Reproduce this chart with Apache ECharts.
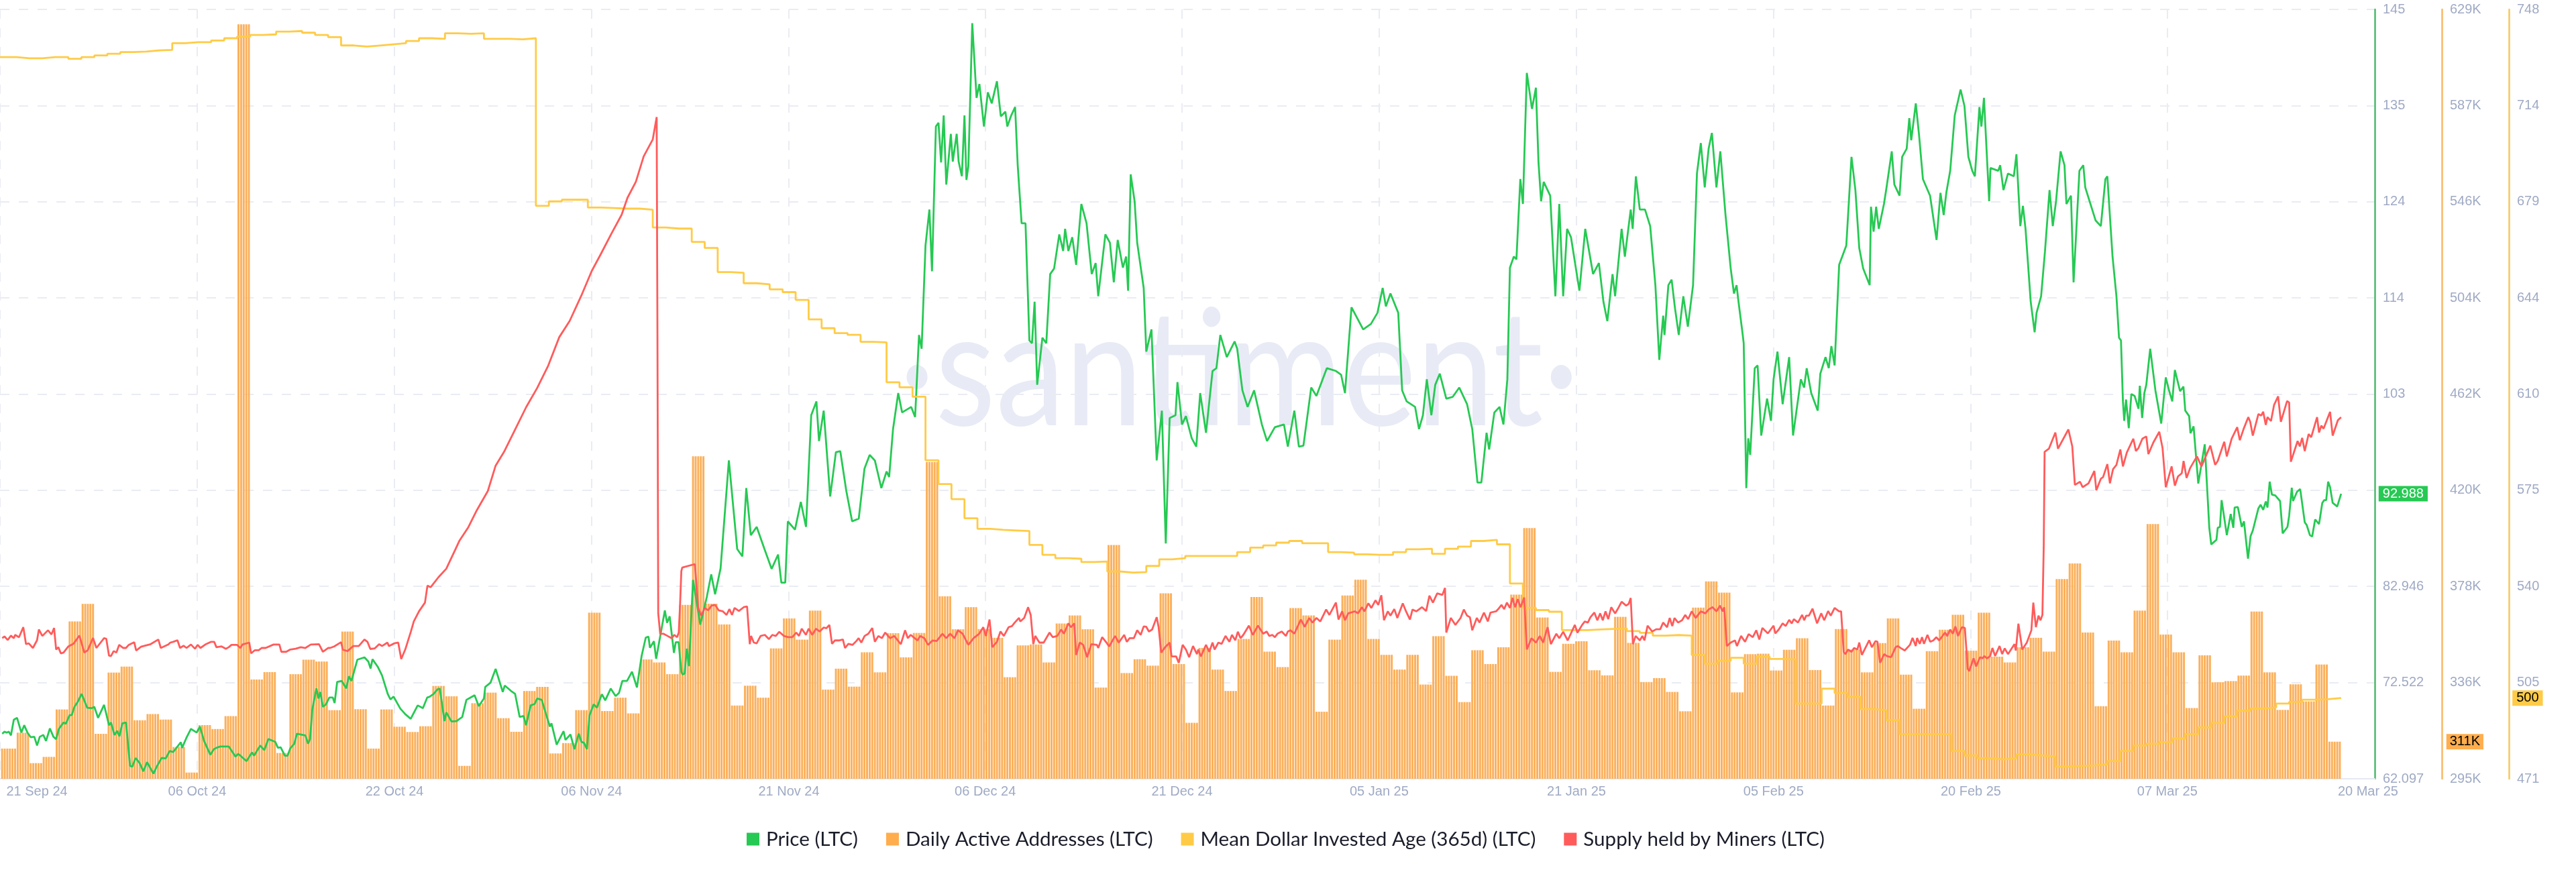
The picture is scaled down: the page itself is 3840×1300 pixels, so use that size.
<!DOCTYPE html>
<html>
<head>
<meta charset="utf-8">
<title>LTC</title>
<script src="https://cdn.jsdelivr.net/npm/echarts@6/dist/echarts.min.js"></script>
<style>
  html, body { margin: 0; padding: 0; background: #fff; }
  #main { width: 3840px; height: 1300px; }
</style>
</head>
<body>
<div id="main"></div>
<script>
// x is "days since 21 Sep 24", the axis labels sit at even spacing like in the source chart
var dayMin = -0.263, dayMax = 182.59
var gridDays = [-0.26,14.92,30.11,45.29,60.48,75.6,90.75,105.93,121.12,136.3,151.49,166.62]
var dateDays = [2.58,14.92,30.11,45.29,60.48,75.6,90.75,105.93,121.12,136.3,151.49,166.62,182.07]
var dateLabels = ['21 Sep 24','06 Oct 24','22 Oct 24','06 Nov 24','21 Nov 24','06 Dec 24','21 Dec 24','05 Jan 25','21 Jan 25','05 Feb 25','20 Feb 25','07 Mar 25','20 Mar 25']

// y axis ticks
var priceTicks = [62.097,72.522,82.946,93.37,103.79,114.21,124.64,135.06,145.49]
var priceTickText = ['62.097','72.522','82.946','','103','114','124','135','145']
var addrTicks = [295,336.75,378.5,420.25,462,503.75,545.5,587.25,629]
var addrTickText = ['295K','336K','378K','420K','462K','504K','546K','587K','629K']
var ageTicks = [471,505.6,540.3,575,609.6,644.3,679,713.6,748.3]
var ageTickText = ['471','505','540','575','610','644','679','714','748']

// daily active addresses in thousands, one per day from 21 Sep 24
var addresses = [
308.1,315,301.8,304.5,325.1,363.3,370.9,314.5,341.1,343.7,320.4,323.1,320.7,308.8,297.7,318.3,316.6,322.2,622.5,338.1,
341.3,306.2,340.4,346.7,345.9,324.8,358.9,325.2,308.1,325.1,317.6,315.3,317.8,335.3,330.8,300.6,327.8,332.4,321.3,315.4,
333.1,334.9,306,310.5,324.8,367.1,324.4,330.2,323.4,346.8,345.5,340.4,370.5,435,371,362,326.8,335.4,330.2,351.6,
364.6,355.4,368,333.7,342.8,335,349.9,341.2,358.2,347.7,358.3,432.5,374.2,359.9,369.5,360,356.2,339.1,352.9,353.3,
345.5,362.4,365.9,359.9,334.6,396.5,340.9,346.9,344.1,375.5,344.8,319.3,351.8,342.4,333.1,355.7,373.9,350.2,343.5,369.1,
365.9,324.1,355.4,374.6,381.4,355.7,348.8,342.4,348.8,335.9,356.9,339.7,328.3,350.8,344.8,352.1,374.9,403.8,365,341.4,
353.6,354.7,342.1,339.9,365.3,354,337,338.7,332.7,324.3,369.3,380.7,375.8,332.5,349.1,349.3,342,351,356,342.2,
326.8,360,351.1,341.2,353.9,364.6,340.2,325.4,350.4,359.7,366.2,350.6,367.1,348,345.5,352.1,356.2,350.2,381.7,388.5,
358.5,326.5,355,349.9,368,405.6,357.6,349.9,325.7,348.6,336.9,337.4,339.8,367.6,341.2,324.9,336,328.6,344.6,311.1]

// mean dollar invested age, one per day
var dollarAge = [
731.1,730.7,730.7,731.1,731.1,730.5,731.1,731.7,732.3,732.9,733.1,733.5,733.7,736.1,736.5,736.5,737.1,737.9,738.5,739.1,
739.3,740.3,740.5,739.9,739.1,738.3,735.3,734.9,735.3,735.7,736.1,736.9,737.9,737.7,739.7,739.5,739.7,737.7,737.7,737.5,
737.9,677.5,679.1,679.7,679.7,676.9,676.7,676.5,676.5,676.1,669.7,669.3,669.3,664.5,662.3,653.6,653.4,649.6,649.2,647.4,
646.4,643.6,636.6,633.4,631.6,631,628.5,628.3,613.9,612.1,608.7,585.8,577.2,571.8,564.9,561.1,560.7,560.5,560.3,555.3,
551.7,550.5,550.3,549.1,549.3,545.7,545.3,545.5,547.7,550.1,550.5,551.3,551.3,551.3,551.3,552.7,554.3,555.1,556.1,556.7,
555.9,555.9,552.7,552.5,551.9,551.7,551.7,552.7,553.7,553.9,552.1,553.9,554.7,556.7,557.1,555.5,541.4,532.6,531.8,531.2,
524.6,524.6,524.8,525,525.2,524.2,523.6,522.6,522.8,522.6,515.6,512.5,513.5,514.6,512.5,515,514.2,514,498.1,498.1,
503.5,501.9,500.5,496.1,495.7,492.1,487.1,487.1,487.1,487.1,481,479.4,478.4,478,478.4,479.8,479.4,479,475.4,475.6,
475.8,476.2,477.4,481,483,483.6,484.2,485.5,487.1,489.5,491.1,493.5,495.5,496.3,496.7,498.1,498.7,499.5,499.7,500.1]

// price: [day, usd]
var pricePoints = [
[-0.09,66.97],[0.08,67.2],[0.25,67.1],[0.42,67.2],[0.58,66.8],[0.8,68.5],[1.05,68.7],[1.38,67.1],[1.6,67.9],[1.85,67.1],[2.1,66.6],[2.38,66.65],[2.59,65.7],[2.8,66.65],[3.07,66.85],[3.28,66.2],[3.58,67.55],[3.85,66.65],[4.06,66.4],[4.27,67.5],[4.63,68.2],[4.8,68.05],[5.1,69],[5.26,69],[5.47,69.9],[5.75,70.5],[6.02,71.3],[6.45,69.8],[6.8,69.75],[7,69.9],[7.29,68.7],[7.75,70.1],[8.13,67.9],[8.28,68.2],[8.55,66.85],[8.76,67.3],[8.93,66.7],[9.16,68.1],[9.44,68.2],[9.75,63.5],[9.92,63.4],
[10.18,64.35],[10.49,63.8],[10.77,62.9],[11.06,63.9],[11.55,62.65],[11.8,63.4],[12.18,64.35],[12.5,64.3],[12.8,65.1],[13.07,65],[13.66,66.05],[13.76,65.45],[14.08,66.5],[14.44,67.5],[14.88,67.1],[15.13,67.75],[15.45,66.2],[15.93,64.7],[16.2,65.3],[16.4,65.45],[16.7,65.6],[17.35,65.6],[17.87,64.5],[18.08,64.8],[18.72,64],[19.14,64.96],[19.3,64.6],[19.77,65.7],[20.09,65.2],[20.4,66.4],[20.93,66.1],[21.14,65.45],[21.35,65.5],[21.67,64.6],[21.88,64.6],[22.09,65.4],[22.4,65.9],[22.6,66.97],[23.25,66.8],[23.46,65.9],[23.61,66.4],[23.78,69.56],[24.1,71.9],[24.26,70.8],[24.4,71.5],[24.6,69.9],[24.83,70.15],[25.1,70.9],[25.36,70.9],[25.5,70.3],[25.7,72.6],[26.05,72.7],[26.4,71.9],[26.6,73.2],[26.8,72.7],[27.25,75],[27.8,75.26],[28.1,74.8],[28.27,74.05],[28.42,75.05],[28.84,74.2],[29.15,73.3],[29.6,71.26],[29.8,70.7],[30.04,71],[30.56,69.7],[30.94,69.1],[31.36,68.6],[31.9,70.05],[32.3,69.75],[32.63,70.9],
[32.8,70.97],[33.1,71.26],[33.43,71.8],[33.6,71.87],[33.96,68.35],[34.1,69.3],[34.5,68.3],[34.9,68.35],[35.33,68.8],[35.65,70.65],[35.96,70.9],[36.28,71.15],[36.6,69.97],[37,70.8],[37.1,72.05],[37.5,72.5],[37.9,74],[38.45,71.5],[38.6,72.2],[39.1,71.6],[39.4,71.3],[39.75,68.8],[40.05,68.9],[40.24,67.9],[40.6,70.05],[40.9,70.2],[41.1,70.8],[41.45,70.65],[41.76,69.2],[42.08,67.75],[42.2,68.1],[42.6,65.8],[43.13,67.25],[43.28,66.3],[43.66,66.9],[43.97,65.3],[44.3,67],[44.5,66.1],[44.7,66],[44.93,65.3],[45.13,68.96],[45.45,70.17],[45.7,69.8],[46.08,71.26],[46.34,70.6],[46.76,71.87],[47.14,71.05],[47.4,71.4],[47.66,72.7],[48.02,72.7],[48.4,73.7],[48.78,72],[49.14,75.4],[49.46,77.4],[49.67,77.5],[49.78,76.3],[50.09,77],[50.26,75.1],[50.93,80.35],[51.1,79],[51.3,79.7],[51.63,75.75],[51.77,76.9],[51.99,76.9],[52.2,73.7],[52.3,73.4],[52.45,73.5],[52.62,76.2],[52.79,74.3],
[53.1,83.65],[53.66,78.8],[54.16,81.8],[54.5,84.25],[54.8,82.1],[55.22,84.9],[55.86,96.6],[56.5,87],[56.9,86.2],[57.2,93.6],[57.55,88.5],[58,89.4],[58.6,87],[59.15,84.85],[59.65,86.4],[59.9,83.35],[60.2,83.35],[60.4,90],[60.95,89.1],[61.4,92.1],[61.8,89.4],[62.2,101.5],[62.6,103],[62.8,98.7],[63.16,102],[63.66,92.7],[64.1,97.5],[64.44,97.6],[64.9,93.3],[65.35,90],[65.86,90.3],[66.3,95.7],[66.7,97.2],[67.1,96.6],[67.6,93.6],[68,95.4],[68.2,94.8],[68.5,100],[68.9,103.9],[69.2,101.8],[69.9,102.4],[70.2,101.3],[70.5,110.2],[70.7,108.7],[71,119.9],[71.3,123.8],[71.5,117.1],[71.8,132.8],[72,133.2],[72.2,128.9],[72.4,134],[72.6,126.5],[72.95,132],[73.1,129],[73.4,132],[73.55,129],[73.8,127.4],[74,134],[74.15,127],[74.3,128.5],[74.6,144],[74.93,135.9],[75.15,137.4],[75.5,132.8],[75.8,136.5],[76.1,135.3],[76.5,137.7],[76.8,133.9],[77.15,134.4],[77.3,132.8],[77.6,134],[77.9,134.9],[78.1,128.6],[78.4,122.3],[78.7,122.3],[79,109.6],[79.2,109.3],[79.4,113.8],[79.6,104.8],[80,109.9],[80.3,109.3],[80.6,116.8],[80.9,117.4],[81.3,121.1],[81.6,119.3],[81.75,121.7],[82,119.3],[82.3,120.8],[82.6,117.8],[83,124.4],[83.4,122.3],[83.8,116.8],[84.1,118],[84.3,114.4],[84.85,121.1],[85.2,120.2],[85.5,115.9],[85.8,120.5],[86.2,117.5],[86.45,118.7],[86.6,115],[86.8,127.6],[87.1,124.7],[87.3,120.2],[87.8,115.3],[88,108.4],[88.4,110.8],[88.8,96.6],[89.2,102],[89.5,87.6],[89.8,101.2],[90.25,101.5],[90.4,105.1],[90.75,100.5],[91.05,101.4],[91.5,99],[91.85,98.1],[92.15,103.9],[92.6,99.6],[93.1,106.3],[93.4,106.6],[93.7,110.2],[94.2,107.8],[94.8,109.5],[95,108.7],[95.4,104.2],[95.8,102.4],[96.3,104.2],[96.9,100.5],[97.3,98.7],[97.9,100.2],[98.6,100.5],[98.9,98.1],[99.4,102],[99.75,98.1],[100.1,98.2],[100.7,104.5],[101.1,103.6],[101.9,106.6],[102.6,106.3],[103,105.9],[103.3,103.9],[103.8,113.2],[104.7,110.8],[105.3,111.4],[105.8,112.6],[106.2,115.3],[106.45,113.3],[106.8,114.7],[107.4,112.6],[107.7,104.2],[108.05,103],[108.7,102.4],[109,100],[109.3,101.5],[109.6,105.4],[109.95,101.5],[110.25,104.8],[110.6,106],[111.1,103.3],[111.6,103.5],[112.1,104.5],[112.7,102.7],[113.1,100],[113.5,94.2],[113.8,94.2],[114.2,99.6],[114.4,97.8],[114.8,101.8],[115.2,102.4],[115.5,100.5],[115.8,105.4],[116,117.5],[116.3,118.7],[116.5,118.4],[116.8,127.1],[117,124.4],[117.3,138.6],[117.7,134.7],[118,137],[118.2,128.9],[118.4,124.7],[118.6,126.8],[119.1,125.3],[119.5,114.4],[119.8,124.4],[120.1,114.4],[120.4,121.7],[120.7,120.8],[121.35,115],[121.8,121.7],[122.4,116.8],[122.85,118],[123.2,113.8],[123.5,111.7],[123.9,116.8],[124.1,114.4],[124.6,121.7],[124.85,118.7],[125.3,123.8],[125.45,121.7],[125.7,127.4],[126,123.8],[126.4,123.8],[126.8,122],[127.2,115.6],[127.5,107.5],[127.8,112.3],[127.9,110.2],[128.2,115.6],[128.45,116.2],[128.7,113.2],[129,110.2],[129.35,114.4],[129.7,111.1],[130.1,115.6],[130.4,127.7],[130.7,131],[131,126.2],[131.3,130.4],[131.55,132.1],[131.9,126.2],
[132.2,130.1],[132.6,123.2],[133,117.4],[133.25,114.7],[133.45,115.6],[133.6,113.8],[133.9,110.5],[134,109.3],[134.2,93.6],[134.35,99],[134.5,97.2],[134.85,106.6],[135.07,106.9],[135.35,99.3],[135.8,103.3],[136.1,100.9],[136.3,105.4],[136.6,108.4],[137,102.7],[137.5,107.8],[137.8,99.3],[138.4,105.4],[138.65,104.5],[138.85,106.6],[139.2,103.9],[139.7,102],[139.9,106],[140.3,107.8],[140.55,106.6],[140.75,109],[141,106.9],[141.35,117.8],[141.9,119.9],[142.3,129.5],[142.6,125.9],[142.9,119.6],[143.2,117.4],[143.7,115.6],[143.8,124.1],[144,121.4],[144.2,124.1],[144.4,121.7],[144.8,124.4],[145,126.2],[145.4,130.1],[145.6,126.5],[146,125.3],[146.2,129.5],[146.55,130.4],[146.75,133.7],[146.9,131.3],[147.25,135.3],[147.5,131.9],[147.8,127.1],[148.35,125.3],[148.85,120.5],[149.15,125.6],[149.4,123.2],[149.6,125.6],[149.9,128],[150.25,134],[150.7,136.8],[151,135],[151.3,129.5],[151.6,128],[151.8,127.4],[152.15,134.9],[152.3,132.8],[152.5,135.9],[152.9,124.7],[153,128.3],[153.6,128],[153.75,128.6],[154,125.9],[154.35,127.7],[154.8,127.4],[155,129.8],[155.3,122],[155.5,124.2],[155.7,121.7],[156.1,113.8],[156.4,110.5],[156.55,112.6],[156.9,114.4],[157.2,119.3],[157.55,125.9],[157.8,122],[158.05,124.7],[158.4,130.1],[158.7,128.6],[158.85,124.4],[159.2,125.3],[159.4,115.9],[159.85,128],[160.15,128.6],[160.3,126.2],[161.1,122.6],[161.5,122],[161.85,127.1],[162,127.4],[162.4,118.7],[162.7,114.4],[162.9,109.9],[163.05,109.6],[163.2,103],[163.3,100.9],[163.44,103.2],[163.65,100.1],[163.85,103.8],[164.1,103.6],[164.4,102.2],[164.5,104.7],[164.68,101.2],[164.85,103.9],[165,104.8],[165.3,108.7],[165.7,104.2],[166.15,100.6],[166.5,105.6],[166.75,104.2],[167,103],[167.2,106.4],[167.6,104.1],[167.86,104.6],[168,102],[168.3,101.4],[168.4,99.55],[168.64,100.3],[169,94.1],[169.25,96.2],[169.5,98.35],[169.7,93.2],[169.85,89.3],[170,87.5],[170.4,88],[170.5,89.3],[170.67,89.4],[170.8,92.3],[171.2,88.5],[171.5,90.8],[171.7,89.3],[171.8,91.5],[172.05,91.55],[172.35,89.4],[172.52,90],[172.83,85.96],[173.03,88.4],[173.2,89],[173.63,91.4],[173.8,91.8],[174,91.25],[174.2,92.15],[174.33,91.5],[174.5,94.3],[174.67,92.9],[174.93,92.8],[175.3,92.2],[175.5,88.7],[175.87,89.4],[176,90.6],[176.2,93.65],[176.3,92.2],[176.6,93.2],[176.85,93.5],[177.2,89.9],[177.35,89.6],[177.6,88.5],[177.77,88.35],[178,90.2],[178.3,89.7],[178.55,92],[178.7,92.3],[178.85,92.3],[179,94.3],[179.15,93.7],[179.35,92],[179.7,91.6],[180,92.988]]

// supply held by miners, no axis shown in the source so it is kept as % of the axis height: [day, pct]
var supplyPoints = [
[-0.09,18.27],[0.08,18.5],[0.33,18.04],[0.58,18.6],[0.8,18.27],[0.9,18.7],[1.2,18.4],[1.53,19.7],[1.74,17.5],[1.95,17.6],[2.27,17],[2.59,18],[2.73,19.4],[3,18.56],[3.43,19.3],[3.7,18.76],[3.9,19.6],[4.06,16.8],[4.23,17.1],[4.42,16.3],[4.63,16.4],[5,17.2],[5.39,17.54],[5.85,18.6],[6.23,16.4],[6.49,16.7],[6.9,18.3],[7.16,17],[7.75,18.27],[7.92,18.2],[8.13,16],[8.28,15.95],[8.49,16.6],[8.7,16.4],[8.91,17.4],[9.23,17],[9.44,17],[9.65,17.4],[10.07,17.75],[10.22,16.67],[10.6,17.16],[11.34,17.5],[11.93,18.1],[12.12,17],[12.7,17.45],[12.85,17.7],[13.07,17.8],[13.4,18],[13.6,17],[13.87,17.3],[14.1,17],[14.44,17.45],[14.75,16.9],[14.96,17.4],[15.17,17],[15.55,17.45],[16,17.8],[16.23,17.8],[16.4,17.1],[16.8,17.2],[17.13,16.9],[17.35,17.1],[17.56,17.4],[17.98,17.4],[18.25,17],[18.4,17.45],[18.93,17.7],[19.07,16.3],[19.35,16.7],[19.66,16.7],[19.88,17],[20.19,17],[20.8,17.45],[21.25,17.45],[21.4,16.5],[21.77,16.5],[22.09,16.8],[22.5,16.9],[22.9,17.1],[23.25,17],[23.67,17.45],[24.3,17.5],[24.6,16.5],[25,17],[25.15,17],[25.47,17.2],[26,17.75],[26.14,16.76],[26.5,16.6],[26.94,17.25],[27.36,17.25],[27.8,18.1],[28.03,17.8],[28.25,16.87],[28.6,16.95],[28.94,17.5],[29.15,17.25],[29.57,17.7],[29.68,17.25],[30.1,17.6],[30.4,17.7],[30.63,15.56],[30.94,16.8],[31.37,19.1],[31.6,20.45],[32,21.76],[32.46,22.9],[32.65,25.1],[32.9,24.9],[33.5,26.2],[34.1,27.3],[34.8,29.8],[35.1,30.9],[35.8,32.7],[36.45,34.9],[37.3,37.4],[37.9,40.7],[38.55,42.5],[39.4,45.4],[40.25,48.3],[41.1,50.8],[41.95,53.7],[42.8,57.4],[43.6,59.5],[44.5,62.8],[45.3,66],[46,68.2],[46.8,70.8],[47.6,73.3],[48.05,75.5],[48.7,77.6],[49.3,80.9],[50,83.1],[50.3,86],[50.36,57.7],[50.42,21.5],[50.57,18.85],[50.82,18.85],[51.14,18.56],[51.45,18.27],[51.66,18.7],[51.87,18.4],[52,19],[52.1,22.6],[52.2,27],[52.27,27.45],[53.24,27.9],[53.5,22.2],[53.72,21.2],[54,22.2],[54.27,21.9],[54.52,22.5],[54.8,22.6],[55.07,21.9],[55.4,21.76],[55.68,21.3],[55.9,22.05],[56.1,21.3],[56.3,22.2],[56.63,21.8],[57,22.3],[57.26,22.4],[57.47,17.5],[57.57,18.56],[57.78,17.7],[58,17.6],[58.3,18.56],[58.63,18.7],[58.94,18.15],[59.2,18.7],[59.47,18.56],[59.74,19.1],[60.1,18.56],[60.42,18.4],[60.74,18.4],[61.05,19],[61.26,18.56],[61.47,19.5],[61.79,18.7],[62,19.5],[62.28,18.7],[62.57,19.5],[62.85,19.14],[63.16,19.66],[63.37,19.57],[63.6,20],[63.8,17.54],[64.02,17.98],[64.33,17.98],[64.64,18.1],[64.8,17],[65.06,17.54],[65.38,17.4],[65.7,17.95],[65.85,18.27],
[66.06,17.7],[66.31,18.56],[66.6,18.85],[66.9,19.6],[67.1,17.8],[67.37,18.56],[67.64,18.27],[67.9,19],[68.27,18.27],[68.59,18.56],[69.1,17.5],[69.43,19.3],[69.64,18.27],[69.86,18.7],[70.17,18.27],[70.38,17.98],[70.6,18.56],[70.91,18.27],[71.2,17.4],[71.54,17.98],[71.86,17.9],[72.3,18.85],[72.6,18.27],[72.9,18.85],[73.23,18.27],[73.5,19.3],[73.86,18.85],[74.3,17.4],[74.7,18.27],[75.13,18.85],[75.45,19.7],[75.65,18.56],[75.93,20.7],[76.14,17.1],[76.5,17.8],[76.77,19.14],[77.03,18.56],[77.4,19.7],[77.66,19.85],[77.87,20.3],[78.2,20.9],[78.3,20.45],[78.6,20.9],[78.9,22.3],[79.1,21.3],[79.3,17.5],[79.45,18.56],[79.77,17.7],[80.1,17.7],[80.55,19],[80.8,18.4],[81.14,18.56],[81.45,19.4],[81.66,18.85],[82,20.2],[82.2,19.7],[82.45,20.2],[82.6,16.1],[82.88,17.7],[83.14,17.4],[83.45,15.8],[83.77,17.5],[84.2,17.4],[84.3,17],[84.6,18.4],[84.93,17.7],[85.14,17.2],[85.6,18.56],[85.88,17.7],[86.3,18.7],[86.5,17.8],[86.72,18.27],[87.04,18.27],[87.3,19.3],[87.57,18.7],[87.8,19.8],[88,19.75],[88.2,19.14],[88.45,19.4],[88.8,21],[88.95,19.7],[89.15,16.4],[89.47,17.14],[89.8,17.7],[89.95,15.9],[90.3,15.9],[90.5,15.07],[90.8,17.4],[91.05,16.8],[91.3,15.8],[91.6,17.25],[91.9,16.2],[92,16.8],[92.2,15.9],[92.6,17.4],[92.85,16.5],[93.1,17.7],[93.26,16.8],[93.55,17.7],[93.8,17.54],[94.1,18.56],[94.4,17.8],[94.6,18.7],[94.85,18],[95.05,19.1],[95.26,18.27],[95.47,18.7],[95.9,19.9],[96.2,18.7],[96.6,19.9],[97,18.85],[97.27,19.14],[97.47,18.56],[97.7,18.7],[97.9,18.4],[98.1,18.85],[98.43,19.14],[98.75,18.56],
[98.9,19.14],[99.1,19.3],[99.4,18.85],[99.9,20.7],[100.2,19.75],[100.54,20.9],[100.8,20.3],[101.1,20.9],[101.4,20.45],[101.85,22],[102.1,21.3],[102.6,22.9],[102.8,20.7],[103.08,21.76],[103.3,20.6],[103.55,21.5],[104.07,21.76],[104.3,21.5],[104.6,22.3],[104.8,21.76],[105.1,22.8],[105.33,22.2],[105.65,23.2],[105.86,22.6],[106.1,23.85],[106.3,20.6],[106.6,21.76],[106.8,21.2],[107.1,22.05],[107.33,20.9],[107.75,22.8],[108,21.76],[108.3,20.7],[108.5,22],[108.8,21.76],[109.23,22.3],[109.55,21.8],[109.8,23.8],[110.07,22.9],[110.4,24.1],[110.8,23.9],[111,24.8],[111.1,19],[111.45,20.9],[111.8,20],[112.2,20.9],[112.45,22],[112.7,21.2],[112.92,21],[113.1,19.3],[113.45,20.9],[113.66,20.3],[114,21.6],[114.3,20.45],[114.5,21.6],[114.93,21.76],[115.1,22.05],[115.35,22.6],[115.55,22.05],[115.77,22.9],[116,22.2],[116.2,23.5],[116.4,22.3],[116.6,23.35],[116.82,22.3],[117.1,23.56],[117.3,16.8],[117.66,18.27],[118,17.7],[118.3,18.56],[118.55,17.7],[118.9,19.7],[119.15,17.5],[119.57,18.85],[119.8,18.27],[120.1,19.1],[120.45,17.98],[121,20],[121.2,18.99],[121.56,20],[121.77,20.45],[122,20.3],[122.2,21],[122.5,21.6],[122.73,20.6],[122.95,21.5],[123.15,20.6],[123.36,21.76],[123.57,20.75],[123.8,22.3],[124.1,21.5],[124.3,22.05],[124.6,23],[124.95,22.5],[125.15,22.75],[125.3,23.5],[125.47,17.5],[125.68,18.56],[126,17.98],[126.2,18.56],[126.36,17.98],[126.6,19.9],[126.95,19.14],[127.26,19.43],[127.57,19.43],[127.8,20.3],[128.1,19.7],[128.3,20.9],[128.5,19.85],[128.67,20.9],[128.95,20.3],[129.25,20.6],[129.5,21.3],[129.72,20.75],[130,21.76],[130.3,20.9],[130.7,21.76],[131.05,21.5],[131.3,22],[131.6,22.3],[131.9,21.76],
[132,22],[132.17,22.5],[132.38,21.76],[132.5,22.3],[132.7,17.25],[133,17.7],[133.33,17.98],[133.48,17.25],[133.8,18.56],[134.1,17.8],[134.38,18.8],[134.7,18.4],[134.97,19.3],[135.2,18.1],[135.44,19.6],[135.86,18.9],[136.3,19.9],[136.43,18.9],[136.7,19.4],[137,20.2],[137.23,19.85],[137.5,20.65],[137.7,20.2],[137.86,20.75],[138.18,20.3],[138.5,21.3],[138.66,20.6],[138.81,21.2],[139.02,21.2],[139.3,22.1],[139.65,20.2],[139.97,21.5],[140.2,20.6],[140.5,21.8],[140.7,21.2],[141,22.2],[141.34,21.76],[141.5,21.76],[141.7,16.5],[141.83,16.2],[142.04,16.8],[142.3,16.5],[142.5,17],[142.75,16.8],[142.9,17.7],[143.1,16.1],[143.66,18],[143.87,17.1],[144.15,17.9],[144.3,17.8],[144.5,15.07],[144.82,16.2],[145.03,15.95],[145.35,15.8],[145.7,17.1],[145.87,17.25],[146.13,16.95],[146.4,16.67],[146.8,17.4],[147,18.3],[147.25,17.25],[147.35,18.3],[147.56,17.54],[147.73,18.4],[147.88,17.54],[148.15,18.7],[148.36,17.8],[148.6,17.98],[148.83,18.4],[149.05,17.98],[149.5,19],[149.67,18.56],[149.9,19.4],[150.1,18.85],[150.3,19.8],[150.5,18.56],[150.8,19.7],[151.03,19.6],[151.25,14.3],[151.36,14],[151.7,15.65],[151.9,14.6],[152.2,15.8],[152.4,15.65],[152.52,15.95],[152.73,15.65],[152.98,15.95],[153.15,17],[153.36,15.95],[153.7,17.25],[153.9,16.2],[154.1,16.95],[154.35,16.2],[154.85,17.5],[154.95,16.67],[155.15,20.16],[155.45,16.8],[155.8,17.7],[156.15,19.3],[156.3,22.9],[156.5,19.7],[156.7,21.2],[156.85,20.6],[157,21.3],[157.1,30],[157.17,42.5],[157.5,42.9],[158,45],[158.2,42.9],[159,45.4],[159.3,43.2],[159.5,38.2],[159.9,38.6],
[160.1,37.9],[160.55,38.4],[161,40],[161.15,37.5],[161.5,39],[161.67,39.2],[162,40.9],[162.2,38.4],[162.44,40.25],[162.7,40.8],[163,42.8],[163.2,40.6],[163.5,42.4],[164,44.2],[164.2,42.6],[164.4,43],[164.7,44.2],[165,44.5],[165.16,42.2],[165.54,43.7],[166,45.1],[166.25,43],[166.5,37.9],[166.95,40.6],[167.2,38.1],[167.44,39.3],[167.73,39.7],[167.87,41.3],[168.1,39.1],[168.38,40.4],[168.9,41.9],[169.25,40.6],[169.93,43.3],[170.3,40.8],[170.5,41.3],[171,43.8],[171.2,41.9],[171.57,44.2],[172,45.7],[172.2,44],[172.5,45.5],[172.85,47],[173,46.4],[173.2,44.6],[173.63,47.4],[173.84,47.2],[174,47.7],[174.2,46],[174.33,47],[174.6,46.5],[174.84,48.6],[175.15,49.7],[175.36,46.4],[175.84,49.1],[176,48.9],[176.13,41.2],[176.65,43.9],[176.82,43.2],[177,44.3],[177.2,42.6],[177.5,44.8],[177.7,44.4],[178.15,47],[178.3,45],[178.48,45.9],[178.65,45.5],[179.15,47.7],[179.35,44.6],[179.75,46.6],[180,47]]

var seriesNames = ['Price (LTC)','Daily Active Addresses (LTC)','Mean Dollar Invested Age (365d) (LTC)','Supply held by Miners (LTC)']
var lastPrice = 92.988, lastAddresses = '311K', lastAge = '500'

// every day is a few thin bars in the source, that gives the striped look
var stripesPerDay = 5
var addressStripes = [[-0.1, addresses[0]]]
for (var d = 0; d < addresses.length; d++) {
    for (var s = 0; s < stripesPerDay; s++) {
        addressStripes.push([d + (s + 0.5) / stripesPerDay, addresses[d]])
    }
}
var ageLine = dollarAge.map(function (v, i) { return [i === 0 ? dayMin : i, v] })
ageLine.push([180, dollarAge[dollarAge.length - 1]])

var labelFont = 'Liberation Sans'
var labelGrey = '#9faac4'
var gridGrey = '#e9ecf3'
var lineWidth = 2.8

function yAxisFor(ticks, texts, min, max, offset, color, split) {
    var shown = ticks.filter(function (t, i) { return texts[i] !== '' })
    return {
        type: 'value', position: 'right', offset: offset, min: min, max: max,
        axisLine: { show: true, onZero: false, lineStyle: { color: color, width: 2.5 } },
        axisTick: { show: false, customValues: ticks },
        axisLabel: {
            customValues: shown, margin: 12, color: labelGrey, fontFamily: labelFont, fontSize: 20,
            formatter: function (v) { return texts[ticks.indexOf(v)] }
        },
        splitLine: { show: split, lineStyle: { color: gridGrey, width: 2, type: [14, 14] } }
    }
}

function endTag(day, value, text, bg, fg, dx, pad) {
    return {
        symbol: 'rect', symbolSize: 0, silent: true, animation: false,
        label: {
            show: true, position: 'inside', offset: [dx, 0], formatter: text, color: fg,
            backgroundColor: bg, padding: [2, pad], lineHeight: 19, fontFamily: labelFont, fontSize: 20
        },
        data: [{ coord: [day, value] }]
    }
}

var myChart = echarts.init(document.getElementById('main'), null, { renderer: 'canvas' })
var option = {
    animation: false,
    backgroundColor: '#fff',
    grid: { left: 0, right: 300, top: 14, bottom: 139, containLabel: false },
    graphic: [{
        type: 'text', x: 1340, y: 556, scaleY: 1.16, z: 0, silent: true,
        style: { text: '·santiment·', fontFamily: 'Lato', fontSize: 208, fill: '#e8ebf5', verticalAlign: 'middle' }
    }],
    legend: {
        left: 1108, top: 1231, icon: 'rect', itemWidth: 19, itemHeight: 19, itemGap: 42,
        data: [
            { name: seriesNames[0], itemStyle: { color: '#26c953' } },
            { name: seriesNames[1], itemStyle: { color: '#ffad4d' } },
            { name: seriesNames[2], itemStyle: { color: '#ffcb47' } },
            { name: seriesNames[3], itemStyle: { color: '#ff5b5b' } }
        ],
        textStyle: { fontFamily: 'Lato', fontSize: 29.6, color: '#1a1d29', padding: [0, 0, 0, 5] }
    },
    xAxis: {
        type: 'value', min: dayMin, max: dayMax,
        axisLine: { show: true, onZero: false, lineStyle: { color: '#e6e9f2', width: 2 } },
        axisTick: { show: false, customValues: gridDays },
        axisLabel: {
            customValues: dateDays, margin: 9, color: labelGrey, fontFamily: labelFont, fontSize: 20,
            formatter: function (v) { return dateLabels[dateDays.indexOf(v)] }
        },
        splitLine: { show: true, lineStyle: { color: gridGrey, width: 2, type: [14, 14] } }
    },
    yAxis: [
        yAxisFor(priceTicks, priceTickText, 62.097, 145.49, 0, '#4cb96d', true),
        yAxisFor(addrTicks, addrTickText, 295, 629, 100, '#f7b866', false),
        yAxisFor(ageTicks, ageTickText, 471, 748.3, 200, '#f5c85a', false),
        { type: 'value', show: false, min: 0, max: 100, splitLine: { show: false } }
    ],
    series: [
        {
            name: seriesNames[1], type: 'bar', yAxisIndex: 1, color: '#fbb05c', barWidth: 3, z: 2,
            data: addressStripes,
            markPoint: endTag(180, 311.1, lastAddresses, '#ffad4d', '#000', 184.5, 5)
        },
        {
            name: seriesNames[0], type: 'line', yAxisIndex: 0, color: '#26c953', showSymbol: false, z: 3,
            lineStyle: { width: lineWidth }, data: pricePoints,
            markPoint: endTag(180, lastPrice, String(lastPrice), '#26c953', '#fff', 92.5, 6)
        },
        {
            name: seriesNames[2], type: 'line', yAxisIndex: 2, color: '#ffcb47', showSymbol: false, z: 4,
            step: 'end', lineStyle: { width: lineWidth }, data: ageLine,
            markPoint: endTag(180, 500.1, lastAge, '#ffcb47', '#000', 278, 6)
        },
        {
            name: seriesNames[3], type: 'line', yAxisIndex: 3, color: '#ff5b5b', showSymbol: false, z: 5,
            lineStyle: { width: lineWidth }, data: supplyPoints
        }
    ]
}
myChart.setOption(option)
</script>
</body>
</html>
